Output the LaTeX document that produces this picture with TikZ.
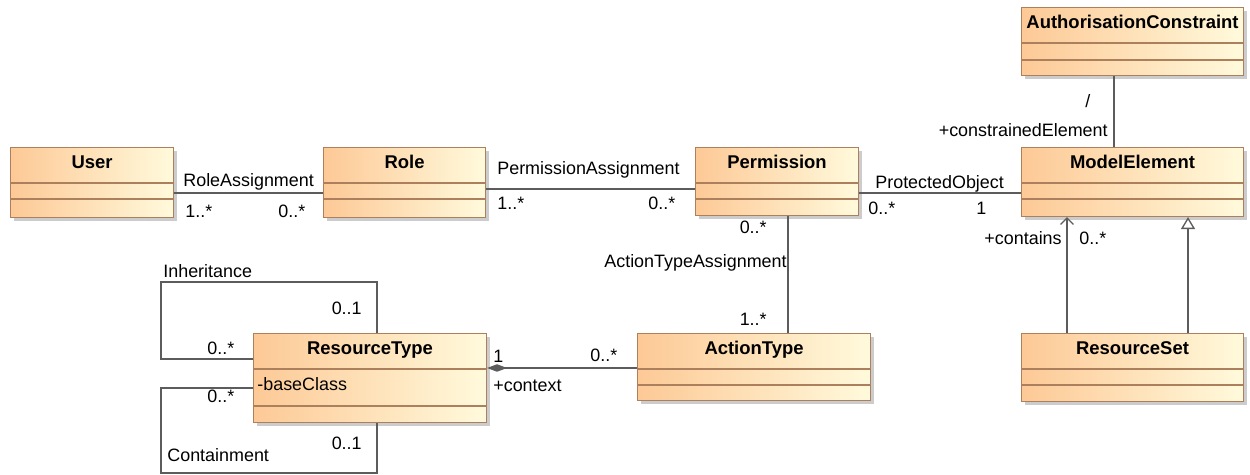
\documentclass[tikz,border=0pt]{standalone}
\usepackage{fontspec}
\setmainfont{Liberation Sans}
\usepackage{tikz}
\usetikzlibrary{arrows.meta,calc,shadows,positioning}
\definecolor{clsleft}{RGB}{253,201,150}
\definecolor{clsright}{RGB}{255,250,220}
\definecolor{clsborder}{RGB}{172,128,92}
\definecolor{linegray}{RGB}{92,92,92}

% one pixel of the layout grid
\newcommand{\pxu}{0.02cm}

% class box: name, corner, width, height, title, offset of 2nd separator
\newcommand{\umlclass}[6]{%
  \node[classbox, minimum width=#3*\pxu, minimum height=#4*\pxu] (#1) at (#2) {};
  \node[classname] (#1-name) at ($(#1.north)+(0,22)$) {#5};
  \draw[classline] ($(#1.north west)+(0,36)$) -- ($(#1.north east)+(0,36)$);
  \draw[classline] ($(#1.north west)+(0,#6)$) -- ($(#1.north east)+(0,#6)$);
}

\begin{document}
\begin{tikzpicture}[x=0.02cm, y=-0.02cm,
    classbox/.style={draw=clsborder, line width=0.6pt, left color=clsleft, right color=clsright,
      anchor=north west, inner sep=0pt,
      drop shadow={shadow xshift=0.06cm, shadow yshift=-0.06cm, fill=black!40, opacity=0.5}},
    classname/.style={anchor=base, inner sep=0pt, font=\fontsize{10.5}{12}\selectfont\bfseries},
    classline/.style={draw=clsborder, line width=0.6pt},
    lbl/.style={inner sep=0pt, font=\fontsize{10.2}{12}\selectfont},
    assoc/.style={draw=linegray, line width=0.75pt}]
  \useasboundingbox (0,0) rectangle (1250,475);

  % Classes
  \umlclass{User}{10,147}{163}{70}{User}{52}
  \umlclass{Role}{323,147}{162}{70}{Role}{52}
  \umlclass{Permission}{695,147}{163}{68}{Permission}{52}
  \umlclass{ModelElement}{1021,147}{222}{69}{ModelElement}{52}
  \umlclass{AuthConstraint}{1021,7}{222}{68}{AuthorisationConstraint}{53}
  \umlclass{ResourceSet}{1021,333}{222}{68}{ResourceSet}{52}
  \umlclass{ActionType}{637,333}{233}{67}{ActionType}{52}
  \umlclass{ResourceType}{253,333}{233}{89}{ResourceType}{73}
  \node[lbl, anchor=base west] (baseClass) at ($(ResourceType.north west)+(4,58)$) {-baseClass};

  % User -- Role
  \draw[assoc] ($(User.north east)+(0,46)$) -- ($(Role.north west)+(0,46)$);
  \node[lbl, anchor=base west] (raName) at (183,187) {RoleAssignment};
  \node[lbl, anchor=base west] (raUser) at (185,218) {1..*};
  \node[lbl, anchor=base west] (raRole) at (278,218) {0..*};

  % Role -- Permission
  \draw[assoc] ($(Role.north east)+(0,42)$) -- ($(Permission.north west)+(0,42)$);
  \node[lbl, anchor=base west] (paName) at (497,175) {PermissionAssignment};
  \node[lbl, anchor=base west] (paRole) at (497,210) {1..*};
  \node[lbl, anchor=base west] (paPerm) at (648,210) {0..*};

  % Permission -- ModelElement
  \draw[assoc] ($(Permission.north east)+(0,46)$) -- ($(ModelElement.north west)+(0,46)$);
  \node[lbl, anchor=base west] (poName) at (875,189) {ProtectedObject};
  \node[lbl, anchor=base west] (poPerm) at (868,215) {0..*};
  \node[lbl, anchor=base west] (poElem) at (976,215) {1};

  % Permission -- ActionType
  \draw[assoc] ($(Permission.south west)+(93,0)$) coordinate (ataTop)
    -- (ataTop |- ActionType.north);
  \node[lbl, anchor=base east] (ataPerm) at (767,234) {0..*};
  \node[lbl, anchor=base east] (ataName) at (787,268) {ActionTypeAssignment};
  \node[lbl, anchor=base east] (ataAct) at (767,326) {1..*};

  % ResourceType <>-- ActionType
  \draw[assoc, {Diamond[length=4mm,width=1.5mm]}-] ($(ResourceType.north east)+(0,35)$)
    -- ($(ActionType.north west)+(0,35)$);
  \node[lbl, anchor=base west] (ctxOne) at (493,363) {1};
  \node[lbl, anchor=base west] (ctxRole) at (493,392) {+context};
  \node[lbl, anchor=base west] (ctxMany) at (590,362) {0..*};

  % AuthorisationConstraint -- ModelElement
  \draw[assoc] ($(AuthConstraint.south west)+(93,0)$) coordinate (acBot)
    -- (acBot |- ModelElement.north);
  \node[lbl, anchor=base west] (acSlash) at (1085,108) {/};
  \node[lbl, anchor=base east] (acRole) at (1108,137) {+constrainedElement};

  % ResourceSet --> ModelElement
  \draw[assoc, -{Straight Barb[length=1.3mm,width=2.6mm]}] ($(ResourceSet.north west)+(46,0)$) coordinate (rsLeft)
    -- (rsLeft |- ModelElement.south);
  \node[lbl, anchor=base east] (rsRole) at (1062,245) {+contains};
  \node[lbl, anchor=base west] (rsMany) at (1079,245) {0..*};

  % ResourceSet is a ModelElement
  \draw[assoc, -{Triangle[open,length=2.4mm,width=2.8mm]}] ($(ResourceSet.north west)+(167,0)$) coordinate (rsRight)
    -- (rsRight |- ModelElement.south);

  % Inheritance loop
  \draw[assoc] ($(ResourceType.north west)+(0,26)$) -| ($(ResourceType.north west)+(-92,-51)$)
    -| ($(ResourceType.north west)+(124,0)$);
  \node[lbl, anchor=base west] (inhName) at (163,278) {Inheritance};
  \node[lbl, anchor=base east] (inhParent) at (362,315) {0..1};
  \node[lbl, anchor=base west] (inhChild) at (207,355) {0..*};

  % Containment loop
  \draw[assoc] ($(ResourceType.north west)+(0,55)$) -| ($(ResourceType.north west)+(-92,140)$)
    -| ($(ResourceType.south west)+(124,0)$);
  \node[lbl, anchor=base west] (conChild) at (207,403) {0..*};
  \node[lbl, anchor=base east] (conParent) at (362,450) {0..1};
  \node[lbl, anchor=base west] (conName) at (167,462) {Containment};
\end{tikzpicture}
\end{document}
